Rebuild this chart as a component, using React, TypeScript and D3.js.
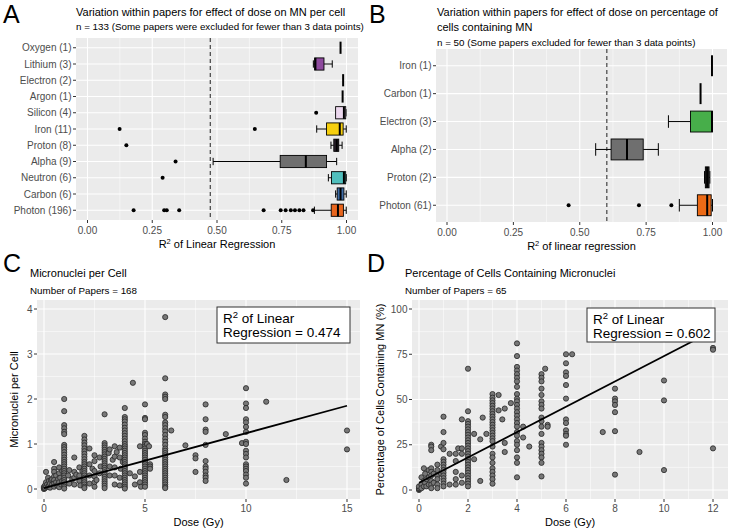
import React from 'react';
import * as d3 from 'd3';

// ---- panel A: R² within papers, MN per cell ----
const labelsA = ['Oxygen (1)', 'Lithium (3)', 'Electron (2)', 'Argon (1)', 'Silicon (4)', 'Iron (11)', 'Proton (8)', 'Alpha (9)', 'Neutron (6)', 'Carbon (6)', 'Photon (196)'];
const lowA = [0.977, 0.872, 0.987, 0.985, 0.958, 0.885, 0.94, 0.485, 0.93, 0.958, 0.876];
const q1A = [0.977, 0.877, 0.987, 0.985, 0.958, 0.923, 0.951, 0.744, 0.942, 0.964, 0.941];
const medA = [0.977, 0.88, 0.987, 0.985, 0.99, 0.974, 0.962, 0.843, 0.99, 0.977, 0.967];
const q3A = [0.977, 0.913, 0.987, 0.985, 0.997, 0.987, 0.97, 0.923, 0.997, 0.99, 0.988];
const highA = [0.977, 0.945, 0.987, 0.985, 0.998, 0.999, 0.983, 0.962, 0.999, 0.999, 0.999];
const outA = [[], [], [], [], [0.883], [0.124, 0.646], [0.15], [0.34], [0.29], [],
  [0.178, 0.296, 0.306, 0.354, 0.68, 0.746, 0.765, 0.785, 0.801, 0.818, 0.834, 0.871]];
const fillA = ['none', '#8E4A9E', 'none', 'none', '#ECD8EE', '#F6CF0E', '#2E2430', '#6F6F6F', '#4FBFBD', '#3E6CA6', '#E8651D'];
const meanR2A = 0.474;

// ---- panel B: R² within papers, % cells with MN ----
const labelsB = ['Iron (1)', 'Carbon (1)', 'Electron (3)', 'Alpha (2)', 'Proton (2)', 'Photon (61)'];
const lowB = [0.998, 0.955, 0.834, 0.56, 0.97, 0.875];
const q1B = [0.998, 0.955, 0.917, 0.618, 0.973, 0.943];
const medB = [0.998, 0.955, 0.998, 0.678, 0.98, 0.98];
const q3B = [0.998, 0.955, 1.0, 0.739, 0.987, 0.995];
const highB = [0.998, 0.955, 1.0, 0.796, 0.99, 1.0];
const outB = [[], [], [], [], [], [0.458, 0.723, 0.845]];
const fillB = ['none', 'none', '#47AE4A', '#6F6F6F', '#2A2A2A', '#EC6A16'];
const meanR2B = 0.602;

const r2Ticks = [0, 0.25, 0.5, 0.75, 1];

// ---- panel C: micronuclei per cell vs dose (dose, values at that dose) ----
const colsC: [number, number[]][] = [
  [0, [0, 0.01, 0.02, 0.03, 0.05]],
  [0.05, [0.02, 0.08]], [0.1, [0.38, 0.15, 0.05]], [0.15, [0.1]], [0.2, [0.25, 0.05]],
  [0.25, [0.18, 0.08]], [0.3, [0.12, 0.03]], [0.35, [0.2]], [0.4, [0.1, 0.22]],
  [0.5, [0.6, 0.45, 0.38, 0.28, 0.2, 0.12, 0.05]], [0.6, [0.3, 0.15]], [0.65, [0.08]],
  [0.7, [0.22]], [0.75, [0.48, 0.35, 0.15, 0.04]], [0.8, [0.25]], [0.85, [0.1]], [0.9, [0.4, 0.18]],
  [1, [2.0, 1.73, 1.42, 1.35, 1.27, 1.22, 0.98, 0.93, 0.88, 0.82, 0.76, 0.7, 0.65, 0.6, 0.55, 0.5, 0.45, 0.4, 0.35, 0.3, 0.25, 0.2, 0.15, 0.1, 0.05, 0.01]],
  [1.2, [0.3]], [1.25, [0.42, 0.12]], [1.4, [0.22]], [1.5, [0.7, 0.38, 0.25, 0.1]], [1.6, [0.32]],
  [1.75, [0.48, 0.3, 0.18]], [1.8, [0.08]], [1.9, [0.4]],
  [2, [1.18, 1.1, 1.03, 0.97, 0.9, 0.84, 0.78, 0.72, 0.66, 0.6, 0.55, 0.5, 0.45, 0.4, 0.35, 0.3, 0.25, 0.2, 0.15, 0.1, 0.05, 0.02]],
  [2.25, [0.9, 0.55, 0.3, 0.12]], [2.4, [0.45]], [2.5, [0.75, 0.62, 0.4, 0.28, 0.15, 0.05]], [2.6, [0.2]],
  [2.75, [0.7, 0.35]], [2.8, [0.5]],
  [3, [1.66, 1.02, 0.97, 0.92, 0.87, 0.82, 0.77, 0.72, 0.67, 0.62, 0.57, 0.52, 0.47, 0.42, 0.37, 0.32, 0.27, 0.22, 0.17, 0.12, 0.07, 0.02]],
  [3.2, [0.8]], [3.25, [0.88, 0.5, 0.3]], [3.4, [0.65]], [3.5, [0.95, 0.72, 0.48, 0.3, 0.1]], [3.6, [0.82]],
  [3.75, [0.92, 0.7, 0.25, 0.08]], [3.8, [0.45]], [3.9, [0.6]],
  [4, [1.8, 1.6, 1.55, 1.5, 1.43, 1.36, 1.3, 1.24, 1.18, 1.12, 1.06, 1.0, 0.95, 0.9, 0.85, 0.8, 0.75, 0.7, 0.65, 0.6, 0.55, 0.5, 0.45, 0.4, 0.35, 0.3, 0.25, 0.2, 0.15, 0.1, 0.05, 0.01]],
  [4.25, [0.35]], [4.4, [2.36]], [4.5, [0.28, 0.1]], [4.75, [0.95, 0.38, 0.15]], [4.8, [0.05]],
  [5, [1.88, 1.58, 1.55, 1.25, 1.2, 1.12, 1.05, 1.0, 0.95, 0.9, 0.85, 0.8, 0.75, 0.7, 0.65, 0.6, 0.55, 0.5, 0.45, 0.4, 0.35, 0.3, 0.25, 0.2, 0.15, 0.1, 0.05]],
  [5.1, [1.0]], [5.2, [0.95]], [5.25, [0.55, 0.5, 0.45]],
  [6, [3.82, 2.46, 2.1, 2.05, 2.0, 1.65, 1.6, 1.48, 1.42, 1.35, 1.28, 1.2, 1.12, 1.05, 0.98, 0.9, 0.85, 0.8, 0.75, 0.7, 0.65, 0.6, 0.55, 0.5, 0.45, 0.4, 0.35, 0.3, 0.25, 0.2, 0.15, 0.1, 0.05, 0.02]],
  [6.3, [1.3]], [7, [0.97]], [7.5, [0.75, 0.68, 0.38]],
  [8, [1.88, 1.55, 1.32, 1.27, 0.98, 0.62, 0.5, 0.45, 0.38, 0.3, 0.25, 0.18]],
  [9, [1.22]], [9.8, [1.02]],
  [10, [2.24, 1.9, 1.8, 1.55, 1.48, 1.38, 1.27, 1.05, 1.0, 0.85, 0.78, 0.7, 0.55, 0.5, 0.45, 0.4, 0.32, 0.25, 0.12]],
  [11, [1.94]], [12, [0.2]], [15, [1.3, 0.88]],
];
const fitC = { intercept: 0.02, slope: 0.122, from: 0, to: 15 };
const r2C = 0.474;
const papersC = 168;

// ---- panel D: % cells containing MN vs dose ----
const colsD: [number, number[]][] = [
  [0, [0, 0.5, 1, 2]], [0.1, [7, 3, 1]], [0.2, [12, 5, 2]], [0.25, [9, 4]], [0.3, [6, 2]],
  [0.4, [11, 7, 3]], [0.5, [25, 24, 22, 12, 10, 8, 5, 3, 1]], [0.6, [9, 4]],
  [0.75, [14, 11, 8, 6, 3, 1]], [0.9, [24, 9]],
  [1, [40.5, 32, 26, 22.5, 17, 15.5, 14, 12.5, 11, 9.5, 8, 6.5, 5, 3.5, 2]],
  [1.25, [20, 3]], [1.5, [20, 16, 10, 6, 3]], [1.6, [23]], [1.75, [39, 23, 20, 8, 4]],
  [2, [67, 43.5, 38, 36.5, 35, 33.5, 32, 30.5, 29, 27.5, 26, 24.5, 23, 21.5, 20, 18.5, 17, 15.5, 14, 12.5, 11, 9.5, 8, 6.5, 5, 3.5, 2]],
  [2.25, [31, 17]], [2.5, [28, 5]], [2.6, [40]], [2.75, [31]],
  [3, [53, 51, 49.5, 48, 46.5, 45, 43.5, 42, 40.5, 39, 37.5, 36, 34.5, 33, 31.5, 30, 28.5, 27, 24, 20, 18, 15, 12, 10, 8, 6, 3.5]],
  [3.25, [52.5, 44]], [3.4, [39]], [3.5, [45, 26, 21]], [3.75, [48]],
  [4, [81, 74, 68, 66, 64, 62, 60, 57, 53, 50.5, 49, 47, 45, 43, 41, 39, 37, 35, 32, 30, 27, 25, 22, 18, 15, 7]],
  [4.25, [35, 29]], [4.5, [24]],
  [5, [64, 62, 60, 56, 52.5, 49, 47, 45, 40, 38, 35, 31, 26, 24, 22, 20, 18, 15, 7.5]],
  [5.15, [67]], [5.25, [36, 35]],
  [6, [75, 70, 65, 63, 58, 50.5, 39, 37, 33, 31, 30, 25]], [6.25, [75]],
  [7.5, [32]], [8, [56, 50.5, 49, 47, 43, 32.5, 8.5]], [9, [21]], [10, [60.5, 49.5, 11]],
  [12, [78.5, 77.5, 23]],
];
const fitD = { intercept: 4, slope: 7.0, from: 0, to: 12 };
const r2D = 0.602;
const papersD = 65;

const FONT = '"Liberation Sans", Arial, Helvetica, sans-serif';
const BG = '#EBEBEB';
const TICK_TXT = '#4D4D4D';
const TICK = '#333333';

type BoxProps = {
  left: number; right: number; top: number; bottom: number;
  x0: number; x1: number;
  labels: string[]; low: number[]; q1: number[]; med: number[]; q3: number[]; high: number[];
  out: number[][]; fills: string[]; dash: number; xTitle: string;
};

const BoxPanel = (p: BoxProps) => {
  const x = d3.scaleLinear().domain([0, 1]).range([p.x0, p.x1]);
  const n = p.labels.length;
  const step = (p.bottom - p.top) / (n + 0.2);
  const y = (i: number) => p.top + (i + 0.6) * step;
  const bh = step * 0.75;
  const cap = bh * 0.6;
  const minor = [0.125, 0.375, 0.625, 0.875];
  return (
    <g>
      <rect x={p.left} y={p.top} width={p.right - p.left} height={p.bottom - p.top} fill={BG} />
      {minor.map(v => <line key={'m' + v} x1={x(v)} x2={x(v)} y1={p.top} y2={p.bottom} stroke="#fff" strokeWidth={0.5} />)}
      {r2Ticks.map(v => <line key={'g' + v} x1={x(v)} x2={x(v)} y1={p.top} y2={p.bottom} stroke="#fff" strokeWidth={1.1} />)}
      {p.labels.map((l, i) => <line key={'h' + l} x1={p.left} x2={p.right} y1={y(i)} y2={y(i)} stroke="#fff" strokeWidth={1.1} />)}
      <line x1={x(p.dash)} x2={x(p.dash)} y1={p.top} y2={p.bottom} stroke="#333" strokeWidth={1.1} strokeDasharray="4,3" />
      {p.labels.map((l, i) => {
        const yc = y(i);
        if (p.q3[i] - p.q1[i] < 0.002) {
          return <line key={l} x1={x(p.med[i])} x2={x(p.med[i])} y1={yc - bh / 2} y2={yc + bh / 2} stroke="#000" strokeWidth={2} />;
        }
        return (
          <g key={l}>
            {p.low[i] < p.q1[i] && <>
              <line x1={x(p.low[i])} x2={x(p.q1[i])} y1={yc} y2={yc} stroke="#000" strokeWidth={1} />
              <line x1={x(p.low[i])} x2={x(p.low[i])} y1={yc - cap / 2} y2={yc + cap / 2} stroke="#000" strokeWidth={1} />
            </>}
            {p.high[i] > p.q3[i] && <>
              <line x1={x(p.q3[i])} x2={x(p.high[i])} y1={yc} y2={yc} stroke="#000" strokeWidth={1} />
              <line x1={x(p.high[i])} x2={x(p.high[i])} y1={yc - cap / 2} y2={yc + cap / 2} stroke="#000" strokeWidth={1} />
            </>}
            <rect x={x(p.q1[i])} y={yc - bh / 2} width={x(p.q3[i]) - x(p.q1[i])} height={bh} fill={p.fills[i]} stroke="#000" strokeWidth={0.9} />
            <line x1={x(p.med[i])} x2={x(p.med[i])} y1={yc - bh / 2} y2={yc + bh / 2} stroke="#000" strokeWidth={2} />
            {p.out[i].map((o, j) => <circle key={j} cx={x(o)} cy={yc} r={2} fill="#000" />)}
          </g>
        );
      })}
      {p.labels.map((l, i) => (
        <g key={'t' + l}>
          <line x1={p.left - 3} x2={p.left} y1={y(i)} y2={y(i)} stroke={TICK} />
          <text x={p.left - 4.5} y={y(i) + 3.5} textAnchor="end" fontSize={10} fill={TICK_TXT}>{l}</text>
        </g>
      ))}
      {r2Ticks.map(v => (
        <g key={'xt' + v}>
          <line x1={x(v)} x2={x(v)} y1={p.bottom} y2={p.bottom + 3} stroke={TICK} />
          <text x={x(v)} y={p.bottom + 14} textAnchor="middle" fontSize={10} fill={TICK_TXT}>{v.toFixed(2)}</text>
        </g>
      ))}
      <text x={(p.left + p.right) / 2} y={p.bottom + 28} textAnchor="middle" fontSize={11} fill="#000">
        R<tspan dy={-4} fontSize={7.5}>2</tspan><tspan dy={4}>{p.xTitle}</tspan>
      </text>
    </g>
  );
};

type ScatterProps = {
  left: number; right: number; top: number; bottom: number;
  xr: [number, number]; yr: [number, number]; xDom: [number, number]; yDom: [number, number];
  cols: [number, number[]][]; fit: { intercept: number; slope: number; from: number; to: number };
  xMajor: number[]; xMinor: number[]; yMajor: number[]; yMinor: number[];
  yTitle: string; yTitleX: number; r2: number; box: [number, number, number, number];
};

const ScatterPanel = (p: ScatterProps) => {
  const x = d3.scaleLinear().domain(p.xDom).range(p.xr);
  const y = d3.scaleLinear().domain(p.yDom).range(p.yr);
  const pts = p.cols.flatMap(([d, vs]) => vs.map(v => [d, v] as [number, number]));
  const line = d3.line<number>().x(d => x(d)).y(d => y(p.fit.intercept + p.fit.slope * d));
  const [bx, by, bw, bh] = p.box;
  return (
    <g>
      <rect x={p.left} y={p.top} width={p.right - p.left} height={p.bottom - p.top} fill={BG} />
      {p.xMinor.map(v => <line key={'xm' + v} x1={x(v)} x2={x(v)} y1={p.top} y2={p.bottom} stroke="#fff" strokeWidth={0.5} />)}
      {p.yMinor.map(v => <line key={'ym' + v} x1={p.left} x2={p.right} y1={y(v)} y2={y(v)} stroke="#fff" strokeWidth={0.5} />)}
      {p.xMajor.map(v => <line key={'xg' + v} x1={x(v)} x2={x(v)} y1={p.top} y2={p.bottom} stroke="#fff" strokeWidth={1.1} />)}
      {p.yMajor.map(v => <line key={'yg' + v} x1={p.left} x2={p.right} y1={y(v)} y2={y(v)} stroke="#fff" strokeWidth={1.1} />)}
      {pts.map((d, i) => <circle key={i} cx={x(d[0])} cy={y(d[1])} r={2.6} fill="#777" stroke="#262626" strokeWidth={0.8} />)}
      <path d={line([p.fit.from, p.fit.to]) || ''} stroke="#000" strokeWidth={1.8} fill="none" />
      <rect x={bx} y={by} width={bw} height={bh} fill="#fff" stroke="#333" strokeWidth={1} />
      <text x={bx + 6} y={by + 16} fontSize={13.5} fill="#000">
        R<tspan dy={-5} fontSize={9.5}>2</tspan><tspan dy={5}> of Linear</tspan>
      </text>
      <text x={bx + 6} y={by + 30} fontSize={13.5} fill="#000">{`Regression = ${p.r2.toFixed(3)}`}</text>
      {p.yMajor.map(v => (
        <g key={'yt' + v}>
          <line x1={p.left - 3} x2={p.left} y1={y(v)} y2={y(v)} stroke={TICK} />
          <text x={p.left - 4.5} y={y(v) + 3.5} textAnchor="end" fontSize={10} fill={TICK_TXT}>{v}</text>
        </g>
      ))}
      {p.xMajor.map(v => (
        <g key={'xt' + v}>
          <line x1={x(v)} x2={x(v)} y1={p.bottom} y2={p.bottom + 3} stroke={TICK} />
          <text x={x(v)} y={p.bottom + 13} textAnchor="middle" fontSize={10} fill={TICK_TXT}>{v}</text>
        </g>
      ))}
      <text x={(p.left + p.right) / 2} y={p.bottom + 27} textAnchor="middle" fontSize={11} fill="#000">Dose (Gy)</text>
      <text transform={`translate(${p.yTitleX},${(p.top + p.bottom) / 2}) rotate(-90)`} textAnchor="middle" fontSize={11} fill="#000">{p.yTitle}</text>
    </g>
  );
};

export default function App() {
  return (
    <svg width={730} height={529} style={{ position: 'absolute', left: 0, top: 0, background: '#fff' }} fontFamily={FONT}>
      <rect width={730} height={529} fill="#fff" />
      {/* A */}
      <text x={3} y={23} fontSize={25}>A</text>
      <text x={76} y={16} fontSize={11}>Variation within papers for effect of dose on MN per cell</text>
      <text x={76} y={30} fontSize={9.8}>n = 133 (Some papers were excluded for fewer than 3 data points)</text>
      <BoxPanel left={76} right={358} top={38} bottom={220} x0={87.5} x1={346.5}
        labels={labelsA} low={lowA} q1={q1A} med={medA} q3={q3A} high={highA} out={outA} fills={fillA}
        dash={meanR2A} xTitle=" of Linear Regression" />
      {/* B */}
      <text x={369} y={23} fontSize={25}>B</text>
      <text x={437} y={16} fontSize={11}>Variation within papers for effect of dose on percentage of</text>
      <text x={437} y={31} fontSize={11}>cells containing MN</text>
      <text x={437} y={46} fontSize={9.8}>n = 50 (Some papers excluded for fewer than 3 data points)</text>
      <BoxPanel left={436} right={727} top={49} bottom={222} x0={447} x1={712.5}
        labels={labelsB} low={lowB} q1={q1B} med={medB} q3={q3B} high={highB} out={outB} fills={fillB}
        dash={meanR2B} xTitle=" of linear regression" />
      {/* C */}
      <text x={3} y={272} fontSize={25}>C</text>
      <text x={30} y={277} fontSize={11}>Micronuclei per Cell</text>
      <text x={30} y={294} fontSize={9.8}>{`Number of Papers =  ${papersC}`}</text>
      <ScatterPanel left={37} right={360} top={300} bottom={499} xr={[44, 347]} yr={[489, 309]}
        xDom={[0, 15]} yDom={[0, 4]} cols={colsC} fit={fitC}
        xMajor={[0, 5, 10, 15]} xMinor={[2.5, 7.5, 12.5]} yMajor={[0, 1, 2, 3, 4]} yMinor={[0.5, 1.5, 2.5, 3.5]}
        yTitle="Micronuclei per Cell" yTitleX={18} r2={r2C} box={[217, 307, 133, 36]} />
      {/* D */}
      <text x={367} y={272} fontSize={25}>D</text>
      <text x={405} y={277} fontSize={11}>Percentage of Cells Containing Micronuclei</text>
      <text x={405} y={294} fontSize={9.8}>{`Number of Papers =  ${papersD}`}</text>
      <ScatterPanel left={412} right={728} top={300} bottom={499} xr={[419, 713]} yr={[490, 309]}
        xDom={[0, 12]} yDom={[0, 100]} cols={colsD} fit={fitD}
        xMajor={[0, 2, 4, 6, 8, 10, 12]} xMinor={[1, 3, 5, 7, 9, 11]} yMajor={[0, 25, 50, 75, 100]} yMinor={[12.5, 37.5, 62.5, 87.5]}
        yTitle="Percentage of Cells Containing MN (%)" yTitleX={384} r2={r2D} box={[587, 308, 128, 34]} />
    </svg>
  );
}
